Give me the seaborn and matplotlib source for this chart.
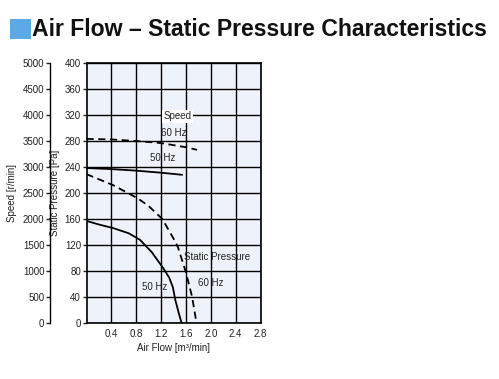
import matplotlib
matplotlib.use("Agg")
import matplotlib.pyplot as plt
import seaborn as sns
import pandas as pd
from matplotlib.patches import Rectangle

# speed curves (r/min)
speed60_flow = [0, 0.4, 0.8, 1.2, 1.6, 1.78]
speed60_rpm = [3540, 3530, 3500, 3460, 3380, 3330]
speed50_flow = [0, 0.4, 0.8, 1.2, 1.54]
speed50_rpm = [2980, 2960, 2930, 2890, 2850]

# static pressure curves (Pa)
press60_flow = [0, 0.43, 0.82, 1.0, 1.22, 1.4, 1.47, 1.6, 1.7, 1.77]
press60_pa = [229, 212, 192, 180, 160, 130, 117, 78, 40, 0]
press50_flow = [0, 0.22, 0.43, 0.68, 0.86, 1.05, 1.23, 1.33, 1.39, 1.43, 1.48, 1.53]
press50_pa = [157, 151, 146, 138, 128, 109, 85, 70, 55, 35, 17, 0]

flow_ticks = [0.4, 0.8, 1.2, 1.6, 2.0, 2.4, 2.8]
pa_ticks = list(range(0, 401, 40))
rpm_ticks = list(range(0, 5001, 500))

sns.set_theme(style="ticks")
plt.rcParams['font.family'] = ['Liberation Sans', 'DejaVu Sans']
plt.rcParams['axes.unicode_minus'] = False

fs = 7
txt = '#222222'

fig = plt.figure(figsize=(4.99, 3.79), dpi=100)
W, H = 499, 379
ax = fig.add_axes([86.5 / W, (H - 323) / H, 174 / W, 260 / H])
ax.set_facecolor('#eef2fa')

# pressure curves
df60 = pd.DataFrame({'flow': press60_flow, 'pa': press60_pa})
df50 = pd.DataFrame({'flow': press50_flow, 'pa': press50_pa})
sns.lineplot(data=df60, x='flow', y='pa', ax=ax, color='black', lw=1.3,
             linestyle=(0, (4, 2.5)), sort=False)
sns.lineplot(data=df50, x='flow', y='pa', ax=ax, color='black', lw=1.3, sort=False)

ax.set_xlim(0, 2.8)
ax.set_ylim(0, 400)
ax.set_xticks(flow_ticks)
ax.set_xticklabels([f"{v:.1f}" for v in flow_ticks])
ax.set_yticks(pa_ticks)
ax.grid(True, color='black', lw=1.0)
ax.set_axisbelow(True)
for s in ax.spines.values():
    s.set_color('black')
    s.set_linewidth(1.2)
ax.tick_params(axis='x', length=0, labelsize=fs, pad=4, colors=txt)
ax.tick_params(axis='y', length=3, width=1, labelsize=fs, pad=1, colors=txt)
ax.set_xlabel('Air Flow [m³/min]', fontsize=fs, labelpad=3, color=txt)
ax.set_ylabel('Static Pressure [Pa]', fontsize=fs, color=txt)
ax.yaxis.set_label_coords(-0.152, 0.5)

# speed axis on the far left (spine ~36 px left of the pressure axis)
sp = ax.twinx()
sp.spines['left'].set_position(('outward', 26.3))
sp.spines['right'].set_visible(False)
sp.spines['top'].set_visible(False)
sp.spines['bottom'].set_visible(False)
sp.spines['left'].set_visible(True)
sp.spines['left'].set_color('black')
sp.spines['left'].set_linewidth(1.0)
sp.yaxis.set_ticks_position('left')
sp.yaxis.set_label_position('left')
sp.set_ylim(0, 5000)
sp.set_yticks(rpm_ticks)
sp.tick_params(axis='y', length=3, width=1, labelsize=fs, pad=1, colors=txt)
sp.set_ylabel('Speed [r/min]', fontsize=fs, color=txt)
sp.yaxis.set_label_coords(-0.40, 0.5)
sp.grid(False)

ds60 = pd.DataFrame({'flow': speed60_flow, 'rpm': speed60_rpm})
ds50 = pd.DataFrame({'flow': speed50_flow, 'rpm': speed50_rpm})
sns.lineplot(data=ds60, x='flow', y='rpm', ax=sp, color='black', lw=1.3,
             linestyle=(0, (4, 2.5)))
sns.lineplot(data=ds50, x='flow', y='rpm', ax=sp, color='black', lw=1.3)
sp.set_xlim(0, 2.8)

# annotations
ax.text(1.46, 318, 'Speed', fontsize=fs, ha='center', va='center', color=txt,
        bbox=dict(facecolor='white', edgecolor='none', pad=1.0))
ax.text(1.41, 292, '60 Hz', fontsize=fs, ha='center', va='center', color=txt)
ax.text(1.23, 254, '50 Hz', fontsize=fs, ha='center', va='center', color=txt)
ax.text(2.1, 101, 'Static Pressure', fontsize=fs, ha='center', va='center', color=txt)
ax.text(2.0, 62, '60 Hz', fontsize=fs, ha='center', va='center', color=txt)
ax.text(1.10, 55, '50 Hz', fontsize=fs, ha='center', va='center', color=txt)

# title with blue square
fig.patches.append(Rectangle((10 / W, 1 - 39 / H), 21 / W, 20 / H, transform=fig.transFigure,
                             facecolor='#5aaae6', edgecolor='none'))
fig.text(32 / W, 1 - 29 / H, 'Air Flow – Static Pressure Characteristics',
         fontsize=16.6, fontweight='bold', ha='left', va='center', color='#111111')

fig.savefig('out.png', dpi=100)
